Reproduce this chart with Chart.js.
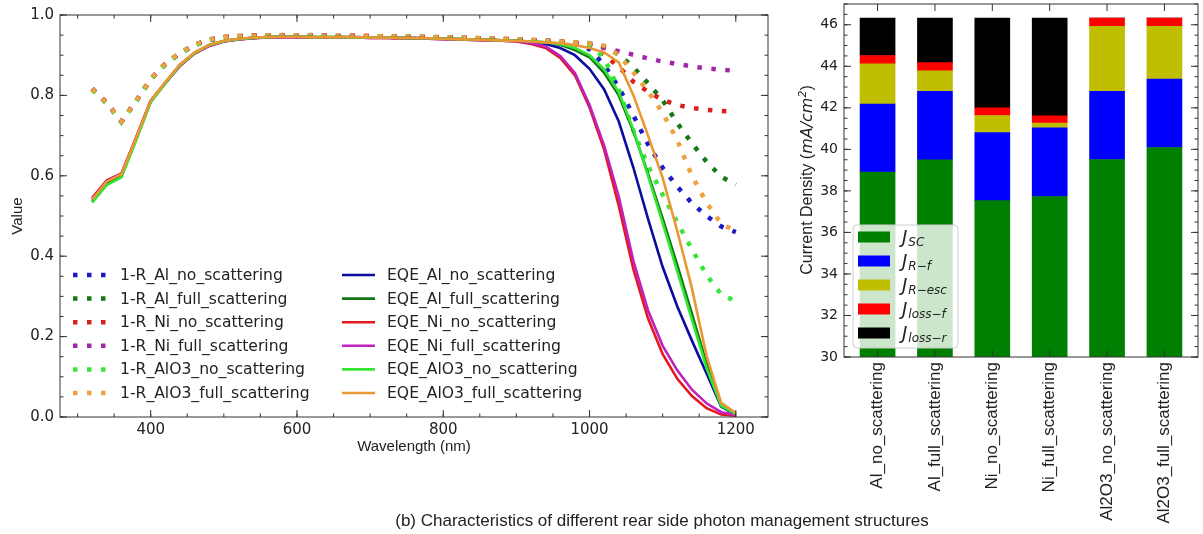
<!DOCTYPE html>
<html>
<head>
<meta charset="utf-8">
<script src="https://cdn.jsdelivr.net/npm/chart.js@4.4.1/dist/chart.umd.min.js"></script>
<style>
  body{margin:0;background:#fff;width:1203px;height:534px;overflow:hidden;position:relative}
  #left{position:absolute;left:0;top:0;width:780px;height:470px}
  #right{position:absolute;left:790px;top:0;width:413px;height:534px}
  #caption{position:absolute;left:262px;width:800px;top:511px;text-align:center;
    font:17px "Liberation Sans",Arial,sans-serif;color:#222;white-space:nowrap}
</style>
</head>
<body>
<div id="left"><canvas id="lineChart"></canvas></div>
<div id="right"><canvas id="barChart"></canvas></div>
<div id="caption">(b) Characteristics of different rear side photon management structures</div>
<script>
// ---- left panel data: 1-R and EQE vs wavelength ----
const wavelengths = [320,340,360,380,400,420,440,460,480,500,520,540,560,580,600,620,640,660,680,700,720,740,760,780,800,820,840,860,880,900,920,940,960,980,1000,1020,1040,1060,1080,1100,1120,1140,1160,1180,1200];

const R_Al_no = [0.816,0.781,0.735,0.785,0.840,0.878,0.905,0.925,0.938,0.944,0.947,0.948,0.948,0.949,0.948,0.949,0.948,0.947,0.948,0.947,0.946,0.946,0.945,0.945,0.944,0.943,0.942,0.941,0.940,0.939,0.937,0.935,0.933,
  0.928,0.915,0.876,0.820,0.750,0.678,0.620,0.573,0.532,0.500,0.474,0.460];
const R_Al_full = [0.815,0.780,0.734,0.786,0.841,0.879,0.905,0.926,0.938,0.945,0.947,0.948,0.949,0.949,0.948,0.948,0.948,0.947,0.947,0.947,0.946,0.945,0.945,0.944,0.944,0.943,0.942,0.941,0.940,0.939,0.937,0.936,0.934,
  0.932,0.930,0.920,0.902,0.870,0.830,0.788,0.731,0.681,0.635,0.598,0.578];
const R_Ni_no = [0.817,0.782,0.736,0.786,0.840,0.878,0.906,0.925,0.939,0.945,0.948,0.949,0.949,0.950,0.949,0.950,0.949,0.948,0.949,0.948,0.947,0.946,0.946,0.945,0.945,0.944,0.943,0.942,0.941,0.940,0.938,0.936,0.934,
  0.931,0.925,0.901,0.871,0.834,0.809,0.789,0.776,0.769,0.764,0.761,0.759];
const R_Ni_full = [0.816,0.781,0.735,0.785,0.840,0.877,0.905,0.925,0.938,0.944,0.947,0.948,0.948,0.949,0.949,0.949,0.948,0.948,0.948,0.947,0.946,0.946,0.945,0.945,0.944,0.943,0.942,0.941,0.940,0.939,0.938,0.936,0.934,
  0.931,0.927,0.918,0.910,0.901,0.892,0.884,0.878,0.872,0.867,0.864,0.861];
const R_AlO3_no = [0.814,0.780,0.733,0.784,0.839,0.877,0.904,0.924,0.938,0.944,0.947,0.947,0.948,0.948,0.948,0.948,0.947,0.947,0.947,0.946,0.946,0.945,0.945,0.944,0.944,0.943,0.942,0.941,0.940,0.938,0.937,0.935,0.933,
  0.930,0.925,0.893,0.815,0.712,0.625,0.553,0.484,0.417,0.353,0.305,0.288];
const R_AlO3_full = [0.816,0.781,0.735,0.786,0.841,0.879,0.906,0.926,0.939,0.945,0.948,0.948,0.949,0.949,0.949,0.949,0.948,0.948,0.948,0.947,0.947,0.946,0.946,0.945,0.944,0.944,0.943,0.942,0.941,0.940,0.938,0.936,0.934,
  0.932,0.930,0.924,0.900,0.857,0.810,0.757,0.688,0.600,0.533,0.481,0.462];

const EQE_Al_no = [0.540,0.585,0.603,0.693,0.786,0.832,0.876,0.906,0.925,0.935,0.940,0.943,0.945,0.946,0.946,0.945,0.944,0.945,0.945,0.944,0.944,0.943,0.943,0.942,0.941,0.940,0.939,0.938,0.937,0.936,
  0.932,0.928,0.918,0.900,0.866,0.815,0.735,0.620,0.493,0.373,0.275,0.190,0.108,0.026,0.005];
const EQE_Al_full = [0.536,0.580,0.599,0.690,0.784,0.831,0.875,0.905,0.925,0.935,0.940,0.943,0.945,0.946,0.946,0.945,0.945,0.945,0.944,0.944,0.944,0.943,0.942,0.942,0.941,0.940,0.939,0.938,0.937,0.936,
  0.934,0.932,0.926,0.913,0.895,0.856,0.800,0.710,0.605,0.494,0.378,0.257,0.133,0.033,0.008];
const EQE_Ni_no = [0.545,0.589,0.606,0.695,0.787,0.831,0.874,0.904,0.923,0.934,0.939,0.942,0.944,0.945,0.945,0.944,0.944,0.944,0.944,0.943,0.943,0.942,0.942,0.941,0.940,0.939,0.938,0.937,0.936,0.934,
  0.928,0.918,0.893,0.850,0.770,0.665,0.525,0.367,0.245,0.156,0.095,0.052,0.022,0.006,0.003];
const EQE_Ni_full = [0.543,0.587,0.605,0.694,0.786,0.830,0.873,0.904,0.923,0.934,0.939,0.942,0.944,0.945,0.945,0.944,0.944,0.944,0.944,0.943,0.943,0.942,0.942,0.941,0.940,0.939,0.938,0.937,0.936,0.935,
  0.930,0.922,0.898,0.856,0.776,0.675,0.548,0.388,0.265,0.177,0.116,0.068,0.034,0.012,0.005];
const EQE_AlO3_no = [0.533,0.577,0.596,0.688,0.783,0.830,0.875,0.905,0.925,0.935,0.940,0.943,0.945,0.946,0.946,0.945,0.945,0.945,0.944,0.944,0.944,0.943,0.942,0.942,0.941,0.940,0.939,0.938,0.937,0.936,
  0.934,0.932,0.928,0.918,0.900,0.865,0.808,0.715,0.600,0.482,0.362,0.242,0.122,0.028,0.007];
const EQE_AlO3_full = [0.541,0.586,0.604,0.694,0.787,0.833,0.877,0.907,0.926,0.936,0.941,0.944,0.945,0.946,0.946,0.945,0.945,0.945,0.945,0.944,0.944,0.943,0.943,0.942,0.941,0.940,0.939,0.938,0.937,0.936,
  0.934,0.932,0.930,0.925,0.918,0.907,0.882,0.800,0.700,0.595,0.462,0.320,0.152,0.035,0.010];

const lineNames = ['1-R_Al_no_scattering','1-R_Al_full_scattering','1-R_Ni_no_scattering','1-R_Ni_full_scattering','1-R_AlO3_no_scattering','1-R_AlO3_full_scattering',
  'EQE_Al_no_scattering','EQE_Al_full_scattering','EQE_Ni_no_scattering','EQE_Ni_full_scattering','EQE_AlO3_no_scattering','EQE_AlO3_full_scattering'];
const lineValues = [R_Al_no,R_Al_full,R_Ni_no,R_Ni_full,R_AlO3_no,R_AlO3_full,
  EQE_Al_no,EQE_Al_full,EQE_Ni_no,EQE_Ni_full,EQE_AlO3_no,EQE_AlO3_full];
const dottedColors = ['#1a1ac8','#157a15','#d8201e','#a228a8','#3be43b','#eea13e'];
const solidColors = ['#0c0c9e','#137513','#e4181c','#bf20bf','#33e633','#ea9832'];
const xTicksLine = [400,600,800,1000,1200];
const yTicksLine = [0,0.2,0.4,0.6,0.8,1.0];

// ---- right panel data: current density breakdown ----
const structures = ['Al_no_scattering','Al_full_scattering','Ni_no_scattering','Ni_full_scattering','Al2O3_no_scattering','Al2O3_full_scattering'];
const Jsc    = [38.90, 39.49, 37.53, 37.73, 39.51, 40.09];
const JRf    = [3.28, 3.30, 3.28, 3.31, 3.28, 3.29];
const JResc  = [1.94, 0.99, 0.82, 0.22, 3.13, 2.54];
const JlossF = [0.40, 0.40, 0.37, 0.35, 0.40, 0.40];
const JlossR = [1.80, 2.14, 4.32, 4.71, 0.00, 0.00];
const barSubs = ['SC','R\u2212f','R\u2212esc','loss\u2212f','loss\u2212r'];
const barColors = ['#008000','#0000ff','#bfbf00','#ff0000','#000000'];
const yTicksBar = [30,32,34,36,38,40,42,44,46];

Chart.defaults.font.family = '"DejaVu Sans", sans-serif';
Chart.defaults.color = '#222';
Chart.defaults.animation = false;

// fixed axis box sizes; drop the label overhang padding chart.js adds
const fixW = w => s => { s.width = w; s.paddingTop = 0; s.paddingBottom = 0; };
const fixH = h => s => { s.height = h; s.paddingLeft = 0; s.paddingRight = 0; };

// box + inward ticks on all four sides (matplotlib style)
const frameTicks = {
  id: 'frameTicks',
  afterDatasetsDraw(chart, args, o) {
    const {ctx, chartArea: a, scales: {x, y}} = chart;
    ctx.save();
    ctx.strokeStyle = '#333';
    ctx.lineWidth = 1;
    ctx.strokeRect(a.left, a.top, a.right - a.left, a.bottom - a.top);
    ctx.beginPath();
    const vx = (p, len) => { ctx.moveTo(p, a.bottom); ctx.lineTo(p, a.bottom - len); ctx.moveTo(p, a.top); ctx.lineTo(p, a.top + len); };
    const hy = (p, len) => { ctx.moveTo(a.left, p); ctx.lineTo(a.left + len, p); ctx.moveTo(a.right, p); ctx.lineTo(a.right - len, p); };
    o.xMajor.forEach(v => vx(x.getPixelForValue(v), 7));
    o.yMajor.forEach(v => hy(y.getPixelForValue(v), 7));
    if (o.xMinor) for (let v = Math.ceil(x.min / o.xMinor) * o.xMinor; v <= x.max; v += o.xMinor) vx(x.getPixelForValue(v), 3.5);
    if (o.yMinor) for (let v = Math.ceil(y.min / o.yMinor - 1e-6) * o.yMinor; v <= y.max + 1e-9; v += o.yMinor) hy(y.getPixelForValue(v), 3.5);
    ctx.stroke();
    ctx.restore();
  }
};

// two-column legend inside the line plot
const lineLegend = {
  id: 'lineLegend',
  afterDraw(chart) {
    const ctx = chart.ctx;
    const cols = [{hx: 73, tx: 120, from: 0}, {hx: 342, tx: 387, from: 6}];
    ctx.save();
    ctx.font = '15.6px "DejaVu Sans"';
    ctx.textBaseline = 'middle';
    ctx.fillStyle = '#222';
    cols.forEach(c => {
      for (let r = 0; r < 6; r++) {
        const ds = chart.data.datasets[c.from + r];
        const yy = 275 + r * 23.6;
        ctx.beginPath();
        ctx.strokeStyle = ds.borderColor;
        ctx.lineWidth = ds.borderWidth;
        ctx.setLineDash(ds.borderDash || []);
        ctx.moveTo(c.hx, yy);
        ctx.lineTo(c.hx + 33, yy);
        ctx.stroke();
        ctx.setLineDash([]);
        ctx.fillText(ds.label, c.tx, yy + 1);
      }
    });
    ctx.restore();
  }
};

// mathtext-like legend and y title for the bar plot
const barDecor = {
  id: 'barDecor',
  afterDraw(chart) {
    const ctx = chart.ctx;
    ctx.save();
    // legend box
    const bx = 63, by = 225, bw = 105, bh = 123;
    ctx.beginPath();
    ctx.roundRect(bx, by, bw, bh, 4);
    ctx.fillStyle = 'rgba(255,255,255,0.8)';
    ctx.fill();
    ctx.strokeStyle = '#cccccc';
    ctx.lineWidth = 1;
    ctx.stroke();
    ctx.textBaseline = 'alphabetic';
    chart.data.datasets.forEach((ds, i) => {
      const yy = 237 + i * 24;
      ctx.fillStyle = ds.backgroundColor;
      ctx.fillRect(68, yy - 5.5, 32, 11);
      ctx.fillStyle = '#222';
      ctx.font = 'italic 18px "DejaVu Sans"';
      ctx.fillText('J', 112, yy + 6);
      const w = ctx.measureText('J').width;
      ctx.font = 'italic 12px "DejaVu Sans"';
      ctx.fillText(barSubs[i], 112 + w + 1, yy + 9);
    });
    // y axis title
    const parts = [
      {t: 'Current Density (', f: '16px "Liberation Sans"', dy: 0},
      {t: 'mA/cm', f: 'italic 16px "DejaVu Sans"', dy: 0},
      {t: '2', f: 'italic 11px "DejaVu Sans"', dy: -6},
      {t: ')', f: '16px "Liberation Sans"', dy: 0}
    ];
    let total = 0;
    parts.forEach(p => { ctx.font = p.f; p.w = ctx.measureText(p.t).width; total += p.w; });
    ctx.translate(22, 180);
    ctx.rotate(-Math.PI / 2);
    let cx = -total / 2;
    parts.forEach(p => { ctx.font = p.f; ctx.fillText(p.t, cx, p.dy); cx += p.w; });
    ctx.restore();
  }
};

// ---------- line chart ----------
const lineDatasets = lineNames.map((name, i) => {
  const dotted = i < 6;
  return {
    label: name,
    data: wavelengths.map((w, k) => ({x: w, y: lineValues[i][k]})),
    borderColor: dotted ? dottedColors[i] : solidColors[i - 6],
    borderWidth: dotted ? 4.5 : 2.6,
    borderDash: dotted ? [4.5, 9.5] : [],
    borderCapStyle: 'butt',
    pointRadius: 0,
    fill: false,
    tension: 0,
    order: -i
  };
});

new Chart(document.getElementById('lineChart'), {
  type: 'line',
  data: {datasets: lineDatasets},
  options: {
    responsive: true,
    maintainAspectRatio: false,
    layout: {padding: {top: 15, right: 12, left: 0, bottom: 0}},
    plugins: {
      legend: {display: false},
      tooltip: {enabled: false},
      frameTicks: {xMajor: xTicksLine, yMajor: yTicksLine, xMinor: 50, yMinor: 0.05}
    },
    scales: {
      x: {
        type: 'linear', min: 276, max: 1244,
        afterBuildTicks: s => { s.ticks = xTicksLine.map(v => ({value: v})); },
        afterFit: fixH(53),
        grid: {display: false, drawTicks: false},
        border: {display: false},
        ticks: {font: {size: 15}, padding: 4, color: '#222', callback: v => String(v)},
        title: {display: true, text: 'Wavelength (nm)', font: {family: '"Liberation Sans"', size: 15}, color: '#222', padding: {top: 0, bottom: 14}}
      },
      y: {
        min: 0, max: 1.0,
        afterBuildTicks: s => { s.ticks = yTicksLine.map(v => ({value: v})); },
        afterFit: fixW(60),
        grid: {display: false, drawTicks: false},
        border: {display: false},
        ticks: {font: {size: 15}, padding: 6, color: '#222', callback: v => v.toFixed(1)},
        title: {display: true, text: 'Value', font: {family: '"Liberation Sans"', size: 15}, color: '#222', padding: {top: 9, bottom: 0}}
      }
    }
  },
  plugins: [frameTicks, lineLegend]
});

// ---------- stacked bar chart ----------
const barSeries = [Jsc, JRf, JResc, JlossF, JlossR];
const barDatasets = barSeries.map((vals, i) => ({
  label: 'J_' + barSubs[i],
  data: vals.map((v, k) => ({x: k, y: v})),
  backgroundColor: barColors[i],
  borderWidth: 0,
  barThickness: 35,
  grouped: false
}));

new Chart(document.getElementById('barChart'), {
  type: 'bar',
  data: {datasets: barDatasets},
  options: {
    responsive: true,
    maintainAspectRatio: false,
    layout: {padding: {top: 4, right: 5, left: 0, bottom: 0}},
    plugins: {
      legend: {display: false},
      tooltip: {enabled: false},
      frameTicks: {xMajor: structures.map((s, i) => i), yMajor: yTicksBar, yMinor: 0.5}
    },
    scales: {
      x: {
        type: 'linear', min: -0.585, max: 5.585, stacked: true, offset: false,
        afterBuildTicks: s => { s.ticks = structures.map((n, i) => ({value: i})); },
        afterFit: fixH(177),
        grid: {display: false, drawTicks: false, offset: false},
        border: {display: false},
        ticks: {font: {family: '"Liberation Sans"', size: 17}, padding: 5, color: '#222', minRotation: 90, maxRotation: 90, autoSkip: false,
          callback: v => structures[v]}
      },
      y: {
        min: 30, max: 47, stacked: true,
        afterBuildTicks: s => { s.ticks = yTicksBar.map(v => ({value: v})); },
        afterFit: fixW(54),
        grid: {display: false, drawTicks: false},
        border: {display: false},
        ticks: {font: {size: 14}, padding: 6, color: '#222'}
      }
    }
  },
  plugins: [frameTicks, barDecor]
});
</script>
</body>
</html>
